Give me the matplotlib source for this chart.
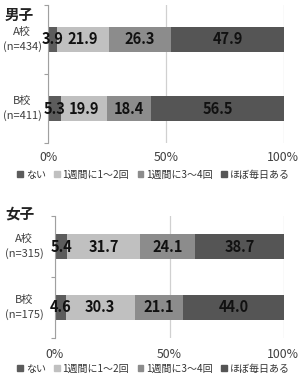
import matplotlib
matplotlib.use("Agg")
import matplotlib.pyplot as plt
from matplotlib.patches import Rectangle

plt.rcParams['font.family'] = ['Noto Sans CJK JP', 'DejaVu Sans']

categories = ['ない', '1週間に1～2回', '1週間に3～4回', 'ほぼ毎日ある']
colors = ['#5c5c5c', '#c0c0c0', '#8c8c8c', '#555555']

boys_labels = ['A校\n(n=434)', 'B校\n(n=411)']
boys_values = [[3.9, 21.9, 26.3, 47.9],
               [5.3, 19.9, 18.4, 56.5]]
girls_labels = ['A校\n(n=315)', 'B校\n(n=175)']
girls_values = [[5.4, 31.7, 24.1, 38.7],
                [4.6, 30.3, 21.1, 44.0]]
xticks = [0, 50, 100]
xtick_labels = ['0%', '50%', '100%']

W, H = 298, 384
fig = plt.figure(figsize=(W / 100, H / 100), dpi=100)


def px_axes(left, top, right, bottom):
    return fig.add_axes([left / W, 1 - bottom / H, (right - left) / W, (bottom - top) / H])


def draw(ax, labels, values, bar_h, title, title_y, legend_y, tick_y, label_x):
    n = len(labels)
    ys = list(range(n - 1, -1, -1))
    for y, vals in zip(ys, values):
        left = 0
        for v, c in zip(vals, colors):
            ax.barh(y, v, left=left, height=bar_h, color=c, edgecolor='none', zorder=2)
            ax.text(left + v / 2, y, f'{v:.1f}', ha='center', va='center',
                    fontsize=10.5, fontweight='bold', color='#111111', zorder=3)
            left += v
    ax.set_xlim(0, 100)
    ax.set_ylim(-0.5, n - 0.5)
    ax.set_xticks(xticks)
    ax.set_xticklabels([])
    for x in xticks:
        ax.axvline(x, color='#d0d0d0', lw=0.9, zorder=1)
    ax.set_yticks([-0.5, 0.5, 1.5])
    ax.set_yticklabels([])
    ax.tick_params(axis='y', length=3, color='#a0a0a0', width=0.8)
    ax.tick_params(axis='x', length=0)
    for s in ['top', 'right', 'bottom']:
        ax.spines[s].set_visible(False)
    ax.spines['left'].set_color('#a0a0a0')
    ax.spines['left'].set_linewidth(0.8)
    # y labels
    for y, lab in zip(ys, labels):
        yp = ax.transData.transform((0, y))[1] / H
        fig.text(label_x / W, yp, lab, ha='center', va='center', fontsize=8,
                 color='#404040', linespacing=1.45)
    # x tick labels
    for x, t in zip(xticks, xtick_labels):
        xp = ax.transData.transform((x, 0))[0]
        if x == 100:
            xp -= 1.5
        fig.text(xp / W, 1 - tick_y / H, t, ha='center', va='center', fontsize=8.8, color='#404040')
    fig.text(5 / W, 1 - title_y / H, title, ha='left', va='center', fontsize=10.5,
             fontweight='bold', color='#222222')
    # legend
    handles = [Rectangle((0, 0), 1, 1, color=c) for c in colors]
    fig.legend(handles, categories, loc='center', bbox_to_anchor=(0.515, 1 - legend_y / H),
               ncol=4, frameon=False, fontsize=7.2, handlelength=0.55, handleheight=0.55,
               handletextpad=0.3, columnspacing=0.85, labelcolor='#333333',
               borderaxespad=0, borderpad=0)


ax_top = px_axes(48, 5, 284, 143)
draw(ax_top, boys_labels, boys_values, 0.36, '男子', 15, 175, 157, 22)
ax_bot = px_axes(55, 216, 284, 338)
draw(ax_bot, girls_labels, girls_values, 0.41, '女子', 213, 369, 355, 24)

fig.savefig('out.png', dpi=100)
